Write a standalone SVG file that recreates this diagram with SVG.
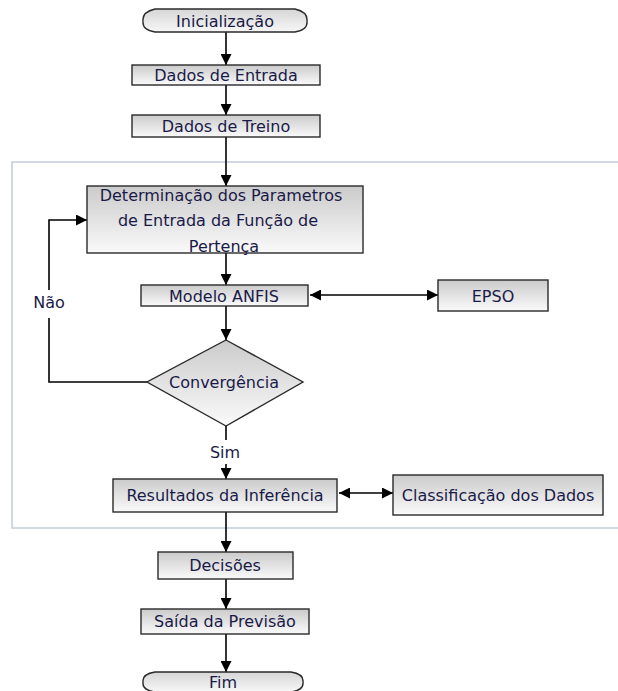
<svg xmlns="http://www.w3.org/2000/svg" width="618" height="691" viewBox="0 0 618 691">
  <style>
    .box { stroke: #2a2a2a; stroke-width: 1.4; fill: url(#boxFill); }
    .term { stroke: #2a2a2a; stroke-width: 1.4; fill: url(#termFill); }
    .lbl { font-family: "DejaVu Sans", Verdana, sans-serif; font-size: 16px; fill: #1a1a48; text-anchor: middle; dominant-baseline: central; }
    .edge { stroke: #000; stroke-width: 1.6; fill: none; }
  </style>
  <defs>
    <linearGradient id="boxFill" x1="0" y1="0" x2="0" y2="1">
      <stop offset="0" stop-color="#cbcbcb"/>
      <stop offset="1" stop-color="#fafafa"/>
    </linearGradient>
    <linearGradient id="termFill" x1="0" y1="0" x2="0" y2="1">
      <stop offset="0" stop-color="#d6d6d6"/>
      <stop offset="1" stop-color="#f7f7f7"/>
    </linearGradient>
    <marker id="arrow" viewBox="0 0 10 10" refX="10" refY="5" markerWidth="11" markerHeight="11" markerUnits="userSpaceOnUse" orient="auto-start-reverse">
      <path d="M0,0 L10,5 L0,10 z" fill="#000"/>
    </marker>
  </defs>

  <!-- optimisation loop frame -->
  <rect x="12" y="162" width="610" height="366" fill="none" stroke="#c4ccd8" stroke-width="1.5"/>

  <g id="connectors">
    <line class="edge" x1="226" y1="32" x2="226" y2="65" marker-end="url(#arrow)"/>
    <line class="edge" x1="226" y1="85" x2="226" y2="115" marker-end="url(#arrow)"/>
    <line class="edge" x1="226" y1="137" x2="226" y2="186" marker-end="url(#arrow)"/>
    <line class="edge" x1="226" y1="253" x2="226" y2="285" marker-end="url(#arrow)"/>
    <line class="edge" x1="226" y1="306" x2="226" y2="340" marker-end="url(#arrow)"/>
    <line class="edge" x1="310" y1="295" x2="438" y2="295" marker-start="url(#arrow)" marker-end="url(#arrow)"/>
    <!-- Não loop back -->
    <polyline class="edge" points="147,382 49,382 49,318"/>
    <polyline class="edge" points="49,290 49,220 87,220" marker-end="url(#arrow)"/>
    <!-- Sim -->
    <line class="edge" x1="226" y1="426" x2="226" y2="440"/>
    <line class="edge" x1="226" y1="464" x2="226" y2="479" marker-end="url(#arrow)"/>
    <line class="edge" x1="339" y1="493" x2="393" y2="493" marker-start="url(#arrow)" marker-end="url(#arrow)"/>
    <line class="edge" x1="226" y1="512" x2="226" y2="552" marker-end="url(#arrow)"/>
    <line class="edge" x1="226" y1="579" x2="226" y2="609" marker-end="url(#arrow)"/>
    <line class="edge" x1="226" y1="634" x2="226" y2="672" marker-end="url(#arrow)"/>
  </g>

  <g id="inicializacao">
    <path class="term" d="M155,9 L295,9 Q308,12 307,21 Q308,30 295,32 L155,32 Q142,30 143,21 Q142,12 155,9 Z"/>
    <text class="lbl" x="225" y="21">Inicialização</text>
  </g>
  <g id="dados-entrada">
    <rect class="box" x="132" y="65" width="188" height="20"/>
    <text class="lbl" x="226" y="75">Dados de Entrada</text>
  </g>
  <g id="dados-treino">
    <rect class="box" x="132" y="115" width="188" height="22"/>
    <text class="lbl" x="226" y="126">Dados de Treino</text>
  </g>
  <g id="determinacao">
    <rect class="box" x="87" y="186" width="276" height="67"/>
    <text class="lbl" x="221" y="195">Determinação dos Parametros</text>
    <text class="lbl" x="218" y="220">de Entrada da Função de</text>
    <text class="lbl" x="224" y="246">Pertença</text>
  </g>
  <g id="modelo-anfis">
    <rect class="box" x="141" y="285" width="167" height="21"/>
    <text class="lbl" x="224" y="296">Modelo ANFIS</text>
  </g>
  <g id="epso">
    <rect class="box" x="438" y="280" width="110" height="31"/>
    <text class="lbl" x="493" y="296">EPSO</text>
  </g>
  <g id="convergencia">
    <polygon class="box" points="226,340 303,382 226,426 147,382"/>
    <text class="lbl" x="224" y="382">Convergência</text>
  </g>
  <g id="nao-label">
    <text class="lbl" x="49" y="302">Não</text>
  </g>
  <g id="sim-label">
    <text class="lbl" x="225" y="452">Sim</text>
  </g>
  <g id="resultados">
    <rect class="box" x="113" y="479" width="224" height="33"/>
    <text class="lbl" x="225" y="495">Resultados da Inferência</text>
  </g>
  <g id="classificacao">
    <rect class="box" x="393" y="475" width="210" height="40"/>
    <text class="lbl" x="498" y="495">Classificação dos Dados</text>
  </g>
  <g id="decisoes">
    <rect class="box" x="158" y="552" width="135" height="27"/>
    <text class="lbl" x="225" y="565">Decisões</text>
  </g>
  <g id="saida">
    <rect class="box" x="141" y="609" width="168" height="25"/>
    <text class="lbl" x="225" y="621">Saída da Previsão</text>
  </g>
  <g id="fim">
    <path class="term" d="M155,672 L291,672 Q304,674 303,682 Q304,690 291,692 L155,692 Q142,690 143,682 Q142,674 155,672 Z"/>
    <text class="lbl" x="223" y="682">Fim</text>
  </g>
</svg>
